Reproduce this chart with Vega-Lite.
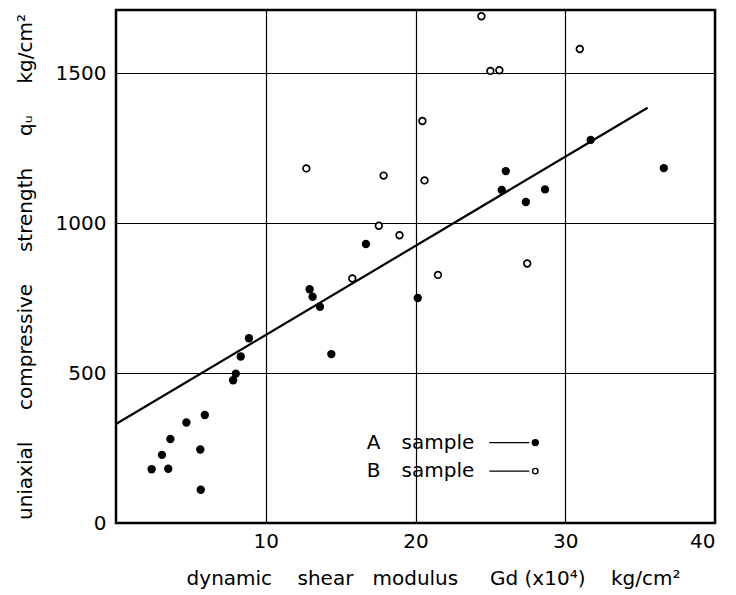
{
  "$schema": "https://vega.github.io/schema/vega-lite/v6.json",
  "width": 599,
  "height": 513,
  "autosize": {"type": "none"},
  "padding": {"left": 116, "top": 10, "right": 21, "bottom": 72},
  "background": "white",
  "config": {
    "view": {"stroke": "black", "strokeWidth": 2.5},
    "font": "DejaVu Sans",
    "axis": {
      "labelFont": "DejaVu Sans",
      "titleFont": "DejaVu Sans",
      "labelColor": "black",
      "titleColor": "black",
      "labelFontSize": 20,
      "titleFontSize": 20,
      "titleFontWeight": "normal",
      "grid": true,
      "gridColor": "black",
      "gridWidth": 1.2,
      "gridOpacity": 1,
      "domain": false,
      "ticks": false,
      "format": "d"
    }
  },
  "datasets": {
    "samples": [
      {"x": 2.38, "y": 179, "sample": "A"},
      {"x": 3.49, "y": 181, "sample": "A"},
      {"x": 3.07, "y": 227, "sample": "A"},
      {"x": 3.63, "y": 280, "sample": "A"},
      {"x": 4.70, "y": 335, "sample": "A"},
      {"x": 5.93, "y": 360, "sample": "A"},
      {"x": 5.63, "y": 245, "sample": "A"},
      {"x": 5.66, "y": 111, "sample": "A"},
      {"x": 7.82, "y": 476, "sample": "A"},
      {"x": 8.00, "y": 498, "sample": "A"},
      {"x": 8.33, "y": 555, "sample": "A"},
      {"x": 8.88, "y": 616, "sample": "A"},
      {"x": 12.93, "y": 779, "sample": "A"},
      {"x": 13.13, "y": 754, "sample": "A"},
      {"x": 13.62, "y": 721, "sample": "A"},
      {"x": 14.38, "y": 563, "sample": "A"},
      {"x": 16.69, "y": 930, "sample": "A"},
      {"x": 20.15, "y": 750, "sample": "A"},
      {"x": 26.03, "y": 1173, "sample": "A"},
      {"x": 25.76, "y": 1110, "sample": "A"},
      {"x": 27.37, "y": 1070, "sample": "A"},
      {"x": 28.65, "y": 1112, "sample": "A"},
      {"x": 31.70, "y": 1277, "sample": "A"},
      {"x": 36.58, "y": 1183, "sample": "A"},
      {"x": 12.71, "y": 1182, "sample": "B"},
      {"x": 17.87, "y": 1158, "sample": "B"},
      {"x": 20.60, "y": 1142, "sample": "B"},
      {"x": 17.55, "y": 991, "sample": "B"},
      {"x": 18.93, "y": 959, "sample": "B"},
      {"x": 15.78, "y": 815, "sample": "B"},
      {"x": 21.50, "y": 827, "sample": "B"},
      {"x": 27.46, "y": 865, "sample": "B"},
      {"x": 24.40, "y": 1689, "sample": "B"},
      {"x": 25.00, "y": 1507, "sample": "B"},
      {"x": 25.60, "y": 1509, "sample": "B"},
      {"x": 30.97, "y": 1580, "sample": "B"},
      {"x": 20.46, "y": 1340, "sample": "B"}
    ],
    "fit": [
      {"x": 0, "y": 330},
      {"x": 35.5, "y": 1384}
    ],
    "keyText": [
      {"x": 16.75, "y": 268, "text": "A"},
      {"x": 19.07, "y": 268, "text": "sample"},
      {"x": 16.75, "y": 173, "text": "B"},
      {"x": 19.07, "y": 173, "text": "sample"}
    ],
    "keyLine": [
      {"x": 24.93, "x2": 27.6, "y": 268},
      {"x": 24.93, "x2": 27.6, "y": 173}
    ],
    "keySymbol": [
      {"x": 28.0, "y": 268, "sample": "A"},
      {"x": 28.0, "y": 173, "sample": "B"}
    ]
  },
  "encoding": {
    "x": {
      "field": "x",
      "type": "quantitative",
      "scale": {"domain": [0, 40], "nice": false, "zero": false},
      "axis": {
        "values": [10, 20, 30, 40],
        "labelPadding": 8,
        "titlePadding": 17,
        "titleX": 317,
        "title": "dynamic\u00a0\u00a0\u00a0\u00a0shear\u00a0\u00a0\u00a0modulus\u00a0\u00a0\u00a0\u00a0\u00a0Gd (x10⁴)\u00a0\u00a0\u00a0\u00a0kg/cm²"
      }
    },
    "y": {
      "field": "y",
      "type": "quantitative",
      "scale": {"domain": [0, 1710], "nice": false},
      "axis": {
        "values": [0, 500, 1000, 1500],
        "labelPadding": 10,
        "titlePadding": 20,
        "title": "uniaxial\u00a0\u00a0\u00a0\u00a0\u00a0compressive\u00a0\u00a0\u00a0\u00a0\u00a0strength\u00a0\u00a0\u00a0\u00a0\u00a0qᵤ\u00a0\u00a0\u00a0\u00a0\u00a0kg/cm²"
      }
    }
  },
  "layer": [
    {
      "data": {"name": "fit"},
      "mark": {"type": "line", "color": "black", "strokeWidth": 2.2}
    },
    {
      "data": {"name": "samples"},
      "transform": [{"filter": "datum.sample === 'A'"}],
      "mark": {"type": "point", "shape": "circle", "filled": true, "color": "black", "size": 70, "opacity": 1}
    },
    {
      "data": {"name": "samples"},
      "transform": [{"filter": "datum.sample === 'B'"}],
      "mark": {"type": "point", "shape": "circle", "filled": false, "fill": "white", "fillOpacity": 1, "stroke": "black", "strokeWidth": 1.7, "size": 45, "opacity": 1}
    },
    {
      "data": {"name": "keyText"},
      "mark": {"type": "text", "align": "left", "baseline": "middle", "fontSize": 20, "color": "black"},
      "encoding": {"text": {"field": "text"}}
    },
    {
      "data": {"name": "keyLine"},
      "mark": {"type": "rule", "color": "black", "strokeWidth": 1.2},
      "encoding": {"x2": {"field": "x2"}}
    },
    {
      "data": {"name": "keySymbol"},
      "transform": [{"filter": "datum.sample === 'A'"}],
      "mark": {"type": "point", "shape": "circle", "filled": true, "color": "black", "size": 55, "opacity": 1}
    },
    {
      "data": {"name": "keySymbol"},
      "transform": [{"filter": "datum.sample === 'B'"}],
      "mark": {"type": "point", "shape": "circle", "filled": false, "fill": "white", "fillOpacity": 1, "stroke": "black", "strokeWidth": 1.4, "size": 30, "opacity": 1}
    }
  ]
}
